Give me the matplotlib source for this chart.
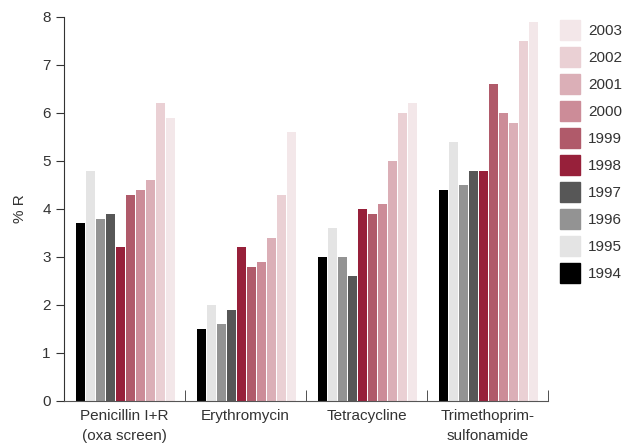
import numpy as np
import matplotlib.pyplot as plt
from matplotlib.patches import Patch

plt.rcParams['font.family'] = ['Liberation Sans', 'DejaVu Sans']

drugs = ["Penicillin I+R\n(oxa screen)", "Erythromycin", "Tetracycline", "Trimethoprim-\nsulfonamide"]
years = ["1994", "1995", "1996", "1997", "1998", "1999", "2000", "2001", "2002", "2003"]
colors = ["#000000", "#e4e4e4", "#939393", "#575757", "#97203a",
          "#b05a6a", "#cc8c98", "#dbafb7", "#ead0d4", "#f3e7e9"]

# % resistant, one list per drug (1994..2003)
penicillin = [3.7, 4.8, 3.8, 3.9, 3.2, 4.3, 4.4, 4.6, 6.2, 5.9]
erythromycin = [1.5, 2.0, 1.6, 1.9, 3.2, 2.8, 2.9, 3.4, 4.3, 5.6]
tetracycline = [3.0, 3.6, 3.0, 2.6, 4.0, 3.9, 4.1, 5.0, 6.0, 6.2]
trimethoprim = [4.4, 5.4, 4.5, 4.8, 4.8, 6.6, 6.0, 5.8, 7.5, 7.9]

values = np.array([penicillin, erythromycin, tetracycline, trimethoprim])

fig = plt.figure(figsize=(6.27, 4.43), dpi=100)
ax = fig.add_axes([64/627, 42/443, 484/627, 384/443])

txt = "#333333"
x = np.arange(len(drugs))
step = 0.0826
for i, yr in enumerate(years):
    ax.bar(x + 0.005 + (i - 4.5) * step, values[:, i], width=0.075, color=colors[i], label=yr)

ax.set_xlim(-0.5, 3.5)
ax.set_ylim(0, 8)
ax.set_yticks(range(9))
ax.set_xticks(x)
ax.set_xticklabels(drugs, color=txt, fontsize=11, linespacing=1.55)
ax.set_xticks(np.arange(0.5, 4, 1), minor=True)
ax.tick_params(axis='x', which='major', length=0, pad=6)
ax.tick_params(axis='x', which='minor', direction='in', length=8, color='#333333')
ax.tick_params(axis='y', direction='out', length=6, labelsize=11, labelcolor=txt, color='#333333')
ax.set_ylabel("% R", color=txt, fontsize=11, labelpad=11)

for s in ['top', 'right']:
    ax.spines[s].set_visible(False)
ax.spines['left'].set_color('#333333')
ax.spines['bottom'].set_color('#555555')

h = [Patch(color=c) for c in colors][::-1]
fig.legend(h, years[::-1], loc='upper left', bbox_to_anchor=(0.872, 0.985),
           frameon=False, fontsize=11, handlelength=1.25, handleheight=1.6,
           labelspacing=0.48, handletextpad=0.55, labelcolor=txt)

fig.savefig("out.png", dpi=100)
